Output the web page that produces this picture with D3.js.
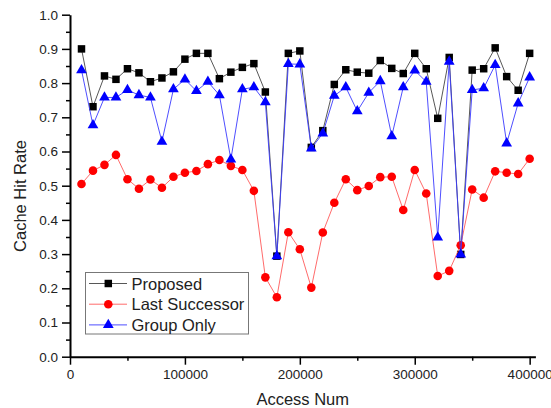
<!DOCTYPE html>
<html>
<head>
<meta charset="utf-8">
<script src="https://cdn.jsdelivr.net/npm/d3@7"></script>
<style>
  body { margin: 0; background: white; }
  text { font-family: "Liberation Sans", Arial, sans-serif; fill: #222; }
</style>
</head>
<body>
<div id="chart-area"></div>
<script>
// x positions of the samples
const accessNum = d3.range(1, 41).map(i => i * 10000)

const proposed = [0.900, 0.731, 0.821, 0.811, 0.842, 0.830, 0.804, 0.815, 0.833, 0.870,
    0.887, 0.887, 0.813, 0.832, 0.846, 0.857, 0.774, 0.294, 0.887, 0.894,
    0.612, 0.661, 0.796, 0.839, 0.832, 0.829, 0.866, 0.843, 0.828, 0.887,
    0.842, 0.697, 0.875, 0.299, 0.838, 0.842, 0.903, 0.819, 0.779, 0.887]

const lastSuccessor = [0.505, 0.544, 0.561, 0.590, 0.519, 0.491, 0.518, 0.494, 0.526, 0.538,
    0.543, 0.563, 0.575, 0.558, 0.546, 0.485, 0.232, 0.174, 0.364, 0.314,
    0.202, 0.363, 0.450, 0.519, 0.487, 0.499, 0.525, 0.526, 0.429, 0.546,
    0.477, 0.236, 0.251, 0.326, 0.489, 0.465, 0.542, 0.538, 0.534, 0.579]

const groupOnly = [0.838, 0.677, 0.758, 0.758, 0.780, 0.765, 0.758, 0.629, 0.782, 0.811,
    0.777, 0.804, 0.765, 0.577, 0.782, 0.788, 0.744, 0.294, 0.856, 0.855,
    0.609, 0.653, 0.763, 0.788, 0.718, 0.772, 0.806, 0.645, 0.788, 0.837,
    0.804, 0.349, 0.863, 0.299, 0.780, 0.785, 0.853, 0.624, 0.741, 0.817]

const seriesNames = ["Proposed", "Last Successor", "Group Only"]
const xTicks = [0, 100000, 200000, 300000, 400000]
const yTicks = [0, 0.1, 0.2, 0.3, 0.4, 0.5, 0.6, 0.7, 0.8, 0.9, 1.0]

const width = 551, height = 408

const svg = d3.select("#chart-area").append("svg")
    .attr("width", width)
    .attr("height", height)

const x = d3.scaleLinear()
    .domain([0, 405000])
    .range([70, 535.4])

const y = d3.scaleLinear()
    .domain([0, 1])
    .range([356.7, 14.7])

// minor ticks first, so the main axes sit on top
svg.append("g")
    .attr("transform", `translate(0, ${y(0)})`)
    .call(d3.axisBottom(x).tickValues([50000, 150000, 250000, 350000]).tickSize(4).tickFormat(""))
    .call(g => g.select(".domain").remove())

svg.append("g")
    .attr("transform", `translate(${x(0)}, 0)`)
    .call(d3.axisLeft(y).tickValues(d3.range(0.05, 1, 0.1)).tickSize(4).tickFormat(""))
    .call(g => g.select(".domain").remove())

const xAxis = svg.append("g")
    .attr("class", "x axis")
    .attr("transform", `translate(0, ${y(0)})`)
    .call(d3.axisBottom(x).tickValues(xTicks).tickSize(8).tickSizeOuter(0).tickPadding(5).tickFormat(d3.format("d")))

const yAxis = svg.append("g")
    .attr("class", "y axis")
    .attr("transform", `translate(${x(0)}, 0)`)
    .call(d3.axisLeft(y).tickValues(yTicks).tickSize(8).tickSizeOuter(0).tickPadding(4).tickFormat(d3.format(".1f")))

svg.selectAll(".axis .domain").attr("stroke-width", 2).attr("stroke", "#000")
svg.selectAll(".tick line").attr("stroke-width", 1.5).attr("stroke", "#000")
svg.selectAll(".axis .tick text")
    .attr("font-size", "13.5px")
    .attr("font-family", "Liberation Sans, Arial, sans-serif")
    .attr("fill", "#222")

// axis titles
svg.append("text")
    .attr("x", (x(0) + x(405000)) / 2)
    .attr("y", 405)
    .attr("font-size", "16.5px")
    .attr("text-anchor", "middle")
    .text("Access Num")

svg.append("text")
    .attr("transform", "translate(26, 196) rotate(-90)")
    .attr("font-size", "16.5px")
    .attr("text-anchor", "middle")
    .text("Cache Hit Rate")

const styles = [
    { values: proposed, line: "#444", fill: "#000", shape: d3.symbolSquare, size: 56 },
    { values: lastSuccessor, line: "#ff5a5a", fill: "#ff0000", shape: d3.symbolCircle, size: 58 },
    { values: groupOnly, line: "#3a3aff", fill: "#0000ff", shape: d3.symbolTriangle, size: 50 }
]

const line = d3.line()
    .x((d, i) => x(accessNum[i]))
    .y(d => y(d))

styles.forEach(s => {
    svg.append("path")
        .attr("d", line(s.values))
        .attr("fill", "none")
        .attr("stroke", s.line)
        .attr("stroke-width", 0.9)

    svg.append("g").selectAll("path")
        .data(s.values)
        .join("path")
        .attr("transform", (d, i) => `translate(${x(accessNum[i])}, ${y(d)})`)
        .attr("d", d3.symbol().type(s.shape).size(s.size))
        .attr("fill", s.fill)
})

// legend
const legend = svg.append("g")
legend.append("rect")
    .attr("x", 85.5)
    .attr("y", 272.5)
    .attr("width", 163)
    .attr("height", 61.5)
    .attr("fill", "white")
    .attr("stroke", "#777")
    .attr("stroke-width", 1)

seriesNames.forEach((name, i) => {
    const ly = 283.5 + i * 20.7
    legend.append("line")
        .attr("x1", 89).attr("x2", 127)
        .attr("y1", ly).attr("y2", ly)
        .attr("stroke", styles[i].line)
        .attr("stroke-width", 0.9)
    legend.append("path")
        .attr("transform", `translate(108.3, ${ly})`)
        .attr("d", d3.symbol().type(styles[i].shape).size(styles[i].size))
        .attr("fill", styles[i].fill)
    legend.append("text")
        .attr("x", 131.5)
        .attr("y", ly + 6)
        .attr("font-size", "16.5px")
        .text(name)
})
</script>
</body>
</html>
